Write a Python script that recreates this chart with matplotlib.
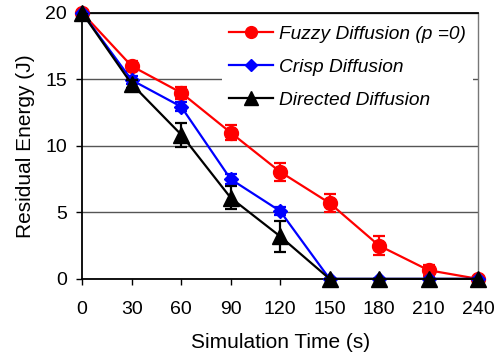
import numpy as np
import matplotlib
matplotlib.use('Agg')
from matplotlib import pyplot as plt
from matplotlib.lines import Line2D

plt.rcParams['font.family'] = ['Liberation Sans', 'DejaVu Sans']

# simulation time (s)
time_s = [0, 30, 60, 90, 120, 150, 180, 210, 240]

# residual energy (J)
fuzzy = [20, 16, 14, 11, 8.05, 5.7, 2.5, 0.65, 0]
fuzzy_err = [0, 0.4, 0.45, 0.55, 0.7, 0.7, 0.7, 0.4, 0]
crisp = [20, 14.95, 12.95, 7.5, 5.1, 0, 0, 0, 0]
crisp_err = [0, 0.3, 0.35, 0.35, 0.3, 0, 0, 0, 0]
directed = [20, 14.65, 10.85, 6.1, 3.2, 0, 0, 0, 0]
directed_err = [0, 0.3, 0.9, 0.88, 1.15, 0, 0, 0, 0]

labels = ['Fuzzy Diffusion (p =0)', 'Crisp Diffusion', 'Directed Diffusion']
colors = ['#ff0000', '#0000ff', 'black']
markers = ['o', 'D', '^']
msizes = [10, 7.5, 11]

fig = plt.figure(figsize=(4.98, 3.58), dpi=100)
ax = fig.add_axes([0.165, 0.221, 0.795, 0.743])

series = [(fuzzy, fuzzy_err), (crisp, crisp_err), (directed, directed_err)]
for i, (vals, errs) in enumerate(series):
    lines = ax.errorbar(time_s, vals, yerr=errs, color=colors[i],
                        marker=markers[i], markersize=msizes[i], lw=1.6,
                        capsize=4, elinewidth=1.6, capthick=1.6, zorder=3 + i)
    lines[0].set_clip_on(False)

ax.set_xlim(0, 240)
ax.set_ylim(0, 20)
ax.set_xticks(time_s)
ax.set_yticks([0, 5, 10, 15, 20])
ax.yaxis.grid(True, color='#555555', lw=1)
ax.set_axisbelow(True)
ax.tick_params(labelsize=14, direction='out', length=4, width=1, pad=7)
ax.tick_params(axis='x', pad=12)

for s in ['left', 'bottom', 'top']:
    ax.spines[s].set_color('black')
    ax.spines[s].set_linewidth(1.3)
ax.spines['right'].set_color('#777777')
ax.spines['right'].set_linewidth(1)

ax.set_xlabel('Simulation Time (s)', fontsize=15, labelpad=11)
ax.set_ylabel('Residual Energy (J)', fontsize=15, labelpad=7)

handles = [Line2D([], [], color=colors[i], marker=markers[i],
                  markersize=msizes[i] - 1.5, lw=1.6) for i in range(3)]
leg = ax.legend(handles, labels, loc='upper right',
                bbox_to_anchor=(0.987, 0.977),
                prop={'style': 'italic', 'size': 13.8}, frameon=True,
                fancybox=False, framealpha=1, edgecolor='none',
                handlelength=2.3, labelspacing=0.81, borderpad=0.35,
                handletextpad=0.35, borderaxespad=0.0)
leg.set_zorder(2.5)

fig.savefig('out.png', dpi=100)
